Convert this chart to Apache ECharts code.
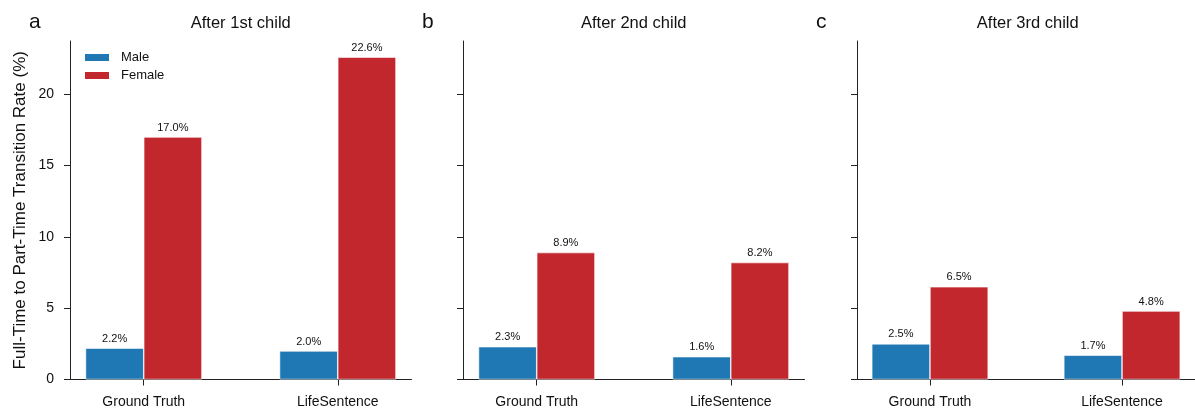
<!DOCTYPE html>
<html><head><meta charset="utf-8">
<script src="https://cdn.jsdelivr.net/npm/echarts@6/dist/echarts.min.js"></script>
<style>html,body{margin:0;padding:0;background:#fff}#c{width:1195px;height:411px}</style>
</head><body><div id="c"></div>
<script>
const categories = ['Ground Truth', 'LifeSentence'];
const panelTitles = ['After 1st child', 'After 2nd child', 'After 3rd child'];
const panelLetters = ['a', 'b', 'c'];
const maleValues = [[2.2, 2.0], [2.3, 1.6], [2.5, 1.7]];
const femaleValues = [[17.0, 22.6], [8.9, 8.2], [6.5, 4.8]];
const yTicks = [0, 5, 10, 15, 20];

const FONT = '"Liberation Sans", Arial, Helvetica, sans-serif';
const lefts = [70, 463, 857];
const gw = 341.5, gtop = 41, gh = 338.5;
const xmin = -0.38, xmax = 1.38;
const barW = gw / (xmax - xmin) * 0.3;
const blue = '#1f77b4', red = '#c1272d';

const grids = [], xAxes = [], yAxes = [], series = [], titles = [];
for (let i = 0; i < 3; i++) {
  grids.push({left: lefts[i], top: gtop, width: gw, height: gh});
  xAxes.push({
    type: 'value', gridIndex: i, min: xmin, max: xmax,
    splitLine: {show: false},
    axisLine: {show: true, onZero: false, lineStyle: {color: '#222', width: 1}},
    axisTick: {show: true, customValues: [0, 1], length: 6, lineStyle: {color: '#222'}},
    axisLabel: {customValues: [0, 1], formatter: v => categories[Math.round(v)], fontFamily: FONT, fontSize: 14, color: '#111', margin: 16}
  });
  yAxes.push({
    type: 'value', gridIndex: i, min: 0, max: 23.73,
    splitLine: {show: false},
    axisLine: {show: true, onZero: false, lineStyle: {color: '#222', width: 1}},
    axisTick: {show: true, customValues: yTicks, length: 6, lineStyle: {color: '#222'}},
    axisLabel: {show: i === 0, customValues: yTicks, fontFamily: FONT, fontSize: 14, color: '#111', margin: 16},
    name: i === 0 ? 'Full-Time to Part-Time Transition Rate (%)' : '',
    nameLocation: 'middle', nameGap: 41,
    nameTextStyle: {fontFamily: FONT, fontSize: 17, color: '#111'}
  });
  const lbl = {show: true, position: 'top', distance: 4, fontFamily: FONT, fontSize: 11, color: '#111', formatter: p => p.value[1].toFixed(1) + '%'};
  series.push({
    type: 'bar', name: 'Male', xAxisIndex: i, yAxisIndex: i,
    data: maleValues[i].map((v, k) => [k, v]),
    barWidth: barW, barGap: '0%',
    itemStyle: {color: blue, borderColor: '#fff', borderWidth: 0.6},
    label: lbl
  });
  series.push({
    type: 'bar', name: 'Female', xAxisIndex: i, yAxisIndex: i,
    data: femaleValues[i].map((v, k) => [k, v]),
    barWidth: barW, barGap: '0%',
    itemStyle: {color: red, borderColor: '#fff', borderWidth: 0.6},
    label: lbl
  });
  titles.push({text: panelTitles[i], left: lefts[i] + gw / 2, textAlign: 'center', top: 15, padding: 0,
    textStyle: {fontFamily: FONT, fontSize: 16.5, fontWeight: 'normal', color: '#111'}});
  titles.push({text: panelLetters[i], left: lefts[i] - 41, top: 12, padding: 0,
    textStyle: {fontFamily: FONT, fontSize: 21, fontWeight: 'normal', color: '#111'}});
}

const chart = echarts.init(document.getElementById('c'), null, {renderer: 'canvas'});
chart.setOption({
  animation: false,
  title: titles,
  legend: {
    data: ['Male', 'Female'], orient: 'vertical', left: 83, top: 51, padding: 0,
    itemWidth: 26, itemHeight: 9, itemGap: 5, icon: 'rect',
    textStyle: {fontFamily: FONT, fontSize: 13, color: '#111', padding: [0, 0, 0, 6]}
  },
  grid: grids, xAxis: xAxes, yAxis: yAxes, series: series
});
</script></body></html>
